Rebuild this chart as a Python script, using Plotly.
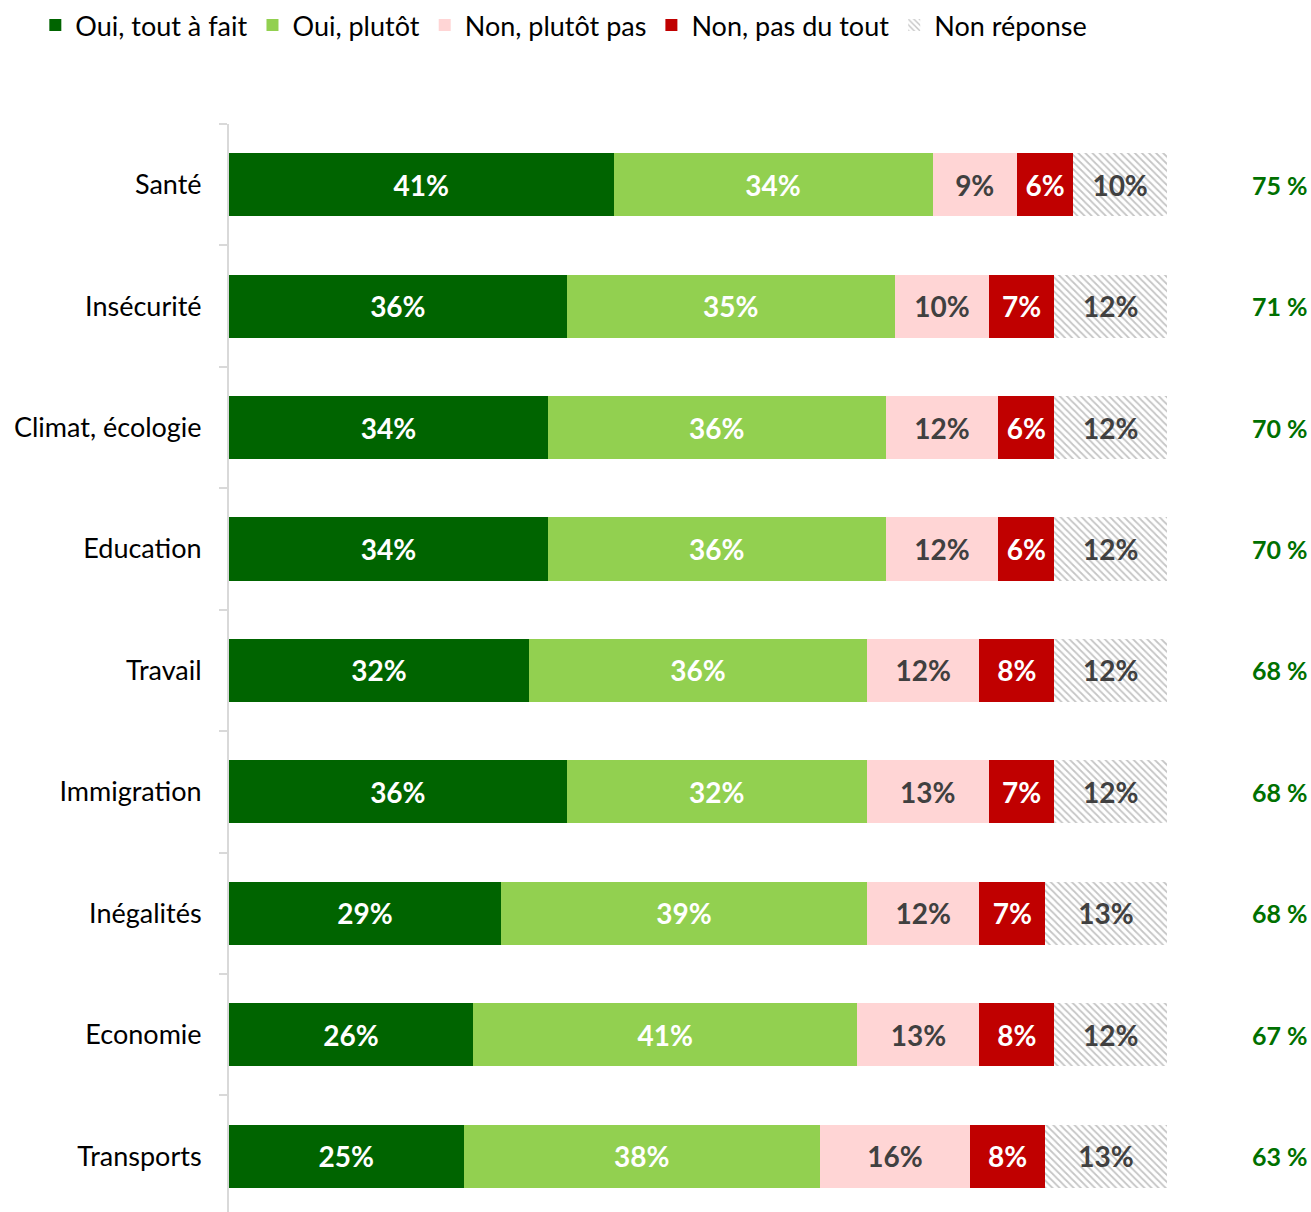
import plotly.graph_objects as go

categories = ["Santé", "Insécurité", "Climat, écologie", "Education", "Travail",
              "Immigration", "Inégalités", "Economie", "Transports"]
oui_tout_a_fait = [41, 36, 34, 34, 32, 36, 29, 26, 25]
oui_plutot = [34, 35, 36, 36, 36, 32, 39, 41, 38]
non_plutot_pas = [9, 10, 12, 12, 12, 13, 12, 13, 16]
non_pas_du_tout = [6, 7, 6, 6, 8, 7, 7, 8, 8]
non_reponse = [10, 12, 12, 12, 12, 12, 13, 12, 13]
total_oui = [75, 71, 70, 70, 68, 68, 68, 67, 63]

series = [
    ("Oui, tout à fait", oui_tout_a_fait, "#006400", "white", None),
    ("Oui, plutôt", oui_plutot, "#92D050", "white", None),
    ("Non, plutôt pas", non_plutot_pas, "#FFD5D5", "#404040", None),
    ("Non, pas du tout", non_pas_du_tout, "#C00000", "white", None),
    ("Non réponse", non_reponse, "white", "#404040", "\\"),
]

FONT = "Lato"
fig = go.Figure()
for name, vals, color, tcolor, pat in series:
    marker = dict(color=color, line=dict(width=0))
    if pat:
        marker["pattern"] = dict(shape=pat, fgcolor="#8c8c8c", bgcolor="white",
                                 size=5, solidity=0.35)
    fig.add_trace(go.Bar(
        y=categories, x=vals, name=name, orientation="h",
        marker=marker, width=0.52,
        text=[f"{v}%" for v in vals], textposition="inside",
        insidetextanchor="middle", textangle=0,
        textfont=dict(family=FONT, size=28, color=tcolor, weight="bold"),
        hoverinfo="skip",
    ))

for cat, t in zip(categories, total_oui):
    fig.add_annotation(x=112, y=cat, text=f"{t} %", showarrow=False,
                       xanchor="center",
                       font=dict(family=FONT, size=25, color="#007000", weight="bold"))

fig.update_layout(
    barmode="stack",
    width=1311, height=1212,
    margin=dict(l=229, r=0, t=124, b=0),
    plot_bgcolor="white", paper_bgcolor="white",
    font=dict(family=FONT, size=24, color="black"),
    uniformtext=dict(minsize=28, mode="show"),
    bargap=0.48,
    legend=dict(orientation="h", x=-0.179, xanchor="left", y=1.113, yanchor="top",
                font=dict(family=FONT, size=27, color="black"),
                itemwidth=30, traceorder="normal"),
    showlegend=True,
)
fig.update_xaxes(range=[0, 115.35], visible=False, fixedrange=True)
fig.update_yaxes(
    type="category", categoryorder="array", categoryarray=categories,
    range=[8.46, -0.5], showline=True, linecolor="#d9d9d9", linewidth=2,
    ticks="outside", tickson="boundaries", ticklen=8, tickcolor="#d9d9d9",
    tickwidth=2, showgrid=False, ticklabelstandoff=20,
    tickfont=dict(family=FONT, size=27, color="black"),
)
fig.write_html("out.html")
